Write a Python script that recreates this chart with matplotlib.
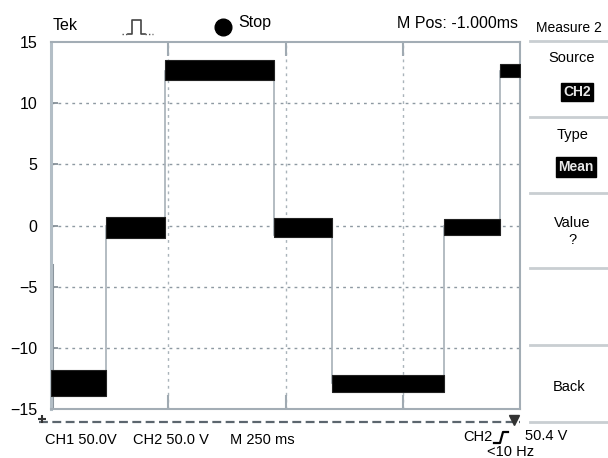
import matplotlib
matplotlib.use("Agg")
import matplotlib.pyplot as plt
from matplotlib.lines import Line2D

plt.rcParams['font.family'] = ['Liberation Sans', 'DejaVu Sans']

# trace levels: each segment is a noisy band (low/high edge)
seg_start = [0.0, 0.47, 0.97, 1.90, 2.40, 3.35, 3.83]
seg_end = [0.47, 0.97, 1.90, 2.40, 3.35, 3.83, 4.0]
band_low = [-13.9, -1.0, 11.9, -0.9, -13.6, -0.8, 12.1]
band_high = [-11.8, 0.7, 13.5, 0.6, -12.2, 0.5, 13.2]

# edges between the levels
edge_x = [0.47, 0.97, 1.90, 2.40, 3.35, 3.83]
edge_from = [-13.0, 0.0, 12.6, -0.2, -12.9, 0.0]
edge_to = [0.0, 12.6, -0.8, -12.9, 0.0, 12.6]

y_ticks = [15, 10, 5, 0, -5, -10, -15]
grid_y = [10, 5, 0, -5, -10]
grid_x = [1, 2, 3]

W, H = 608, 458
fig = plt.figure(figsize=(W / 100, H / 100), dpi=100)


def px(x, y):
    return x / W, 1 - y / H


ax = fig.add_axes([51 / W, 1 - 409 / H, (520 - 51) / W, (409 - 42) / H])
ax.set_xlim(0, 4)
ax.set_ylim(-15, 15)

grid_col = '#8e99a2'
for g in grid_y:
    ax.axhline(g, color=grid_col, lw=1.0, ls=(0, (2, 3)), zorder=1)
for g in grid_x:
    ax.axvline(g, color='#a9b3ba', lw=1.0, ls=(0, (2, 3)), zorder=1)

# left edge of the trace
ax.plot([0.012, 0.012], [-3.2, -15], color='#8a949c', lw=2.2, zorder=2)

for x, a, b in zip(edge_x, edge_from, edge_to):
    ax.plot([x, x], [a, b], color='#a7b0b8', lw=1.2, zorder=2)

for s, e, lo, hi in zip(seg_start, seg_end, band_low, band_high):
    ax.fill_between([s, e], [lo, lo], [hi, hi], color='black', lw=0.8,
                    edgecolor='#222222', zorder=3)

ax.set_yticks(y_ticks)
ax.set_yticklabels([str(t).replace('-', '\u2212') for t in y_ticks])
ax.tick_params(axis='y', direction='in', length=5, width=1.2, color='#7d8890',
               labelsize=11.5, pad=10)
ax.set_xticks(grid_x)
ax.set_xticklabels([])
ax.tick_params(axis='x', direction='in', length=10, width=1.5, color='#a0aab2',
               top=True, bottom=True)

ax.spines['left'].set_color('#b3bec6')
ax.spines['left'].set_linewidth(2.2)
for sp in ['top', 'right', 'bottom']:
    ax.spines[sp].set_color('#a3adb5')
    ax.spines[sp].set_linewidth(1.5)

# dashed scale line under the screen
ax.plot([-0.1, 4.0], [-16.1, -16.1], color='#5c666e', lw=1.6,
        ls=(0, (4, 2)), clip_on=False)
ax.plot([3.95], [-15.9], marker='v', color='#333333', ms=7, clip_on=False)
ax.plot([-0.08], [-15.8], marker='+', color='#333333', ms=6, mew=1.5,
        clip_on=False)

# header
fig.text(*px(53, 25), 'Tek', fontsize=11.5, va='center', ha='left')
fig.add_artist(Line2D([122 / W, 128 / W], [1 - 34 / H, 1 - 34 / H],
                      color='#555555', lw=1, ls=(0, (1, 1.5))))
fig.add_artist(Line2D([x / W for x in [128, 132, 132, 141, 141, 145]],
                      [1 - y / H for y in [34, 34, 20, 20, 34, 34]],
                      color='#444444', lw=1.2))
fig.add_artist(Line2D([145 / W, 153 / W], [1 - 34 / H, 1 - 34 / H],
                      color='#555555', lw=1, ls=(0, (1, 1.5))))
fig.add_artist(Line2D([223 / W], [1 - 27 / H], marker='o', ms=12,
                      color='black'))
fig.text(*px(238, 23), 'Stop', fontsize=11.5, va='center', ha='left')
fig.text(*px(518, 24), 'M Pos: -1.000ms', fontsize=11.5, va='center',
         ha='right')
fig.text(*px(569, 28), 'Measure 2', fontsize=10, va='center', ha='center')

# side menu
for y in [41, 117, 193, 268, 345, 422]:
    fig.add_artist(Line2D([530 / W, 1], [1 - y / H, 1 - y / H],
                          color='#c9ced2', lw=2))
fig.text(*px(572, 58), 'Source', fontsize=10.5, va='center', ha='center')
fig.text(*px(577, 92), 'CH2', fontsize=10, va='center', ha='center',
         color='#e8e8e8', fontweight='bold',
         bbox=dict(boxstyle='square,pad=0.15', fc='black', ec='black'))
fig.text(*px(573, 135), 'Type', fontsize=10.5, va='center', ha='center')
fig.text(*px(576, 167), 'Mean', fontsize=10, va='center', ha='center',
         color='#e8e8e8', fontweight='bold',
         bbox=dict(boxstyle='square,pad=0.2', fc='black', ec='black'))
fig.text(*px(572, 223), 'Value', fontsize=10.5, va='center', ha='center')
fig.text(*px(572, 240), '?', fontsize=10.5, va='center', ha='center')
fig.text(*px(569, 387), 'Back', fontsize=10.5, va='center', ha='center')

# footer
fig.text(*px(45, 440), 'CH1 50.0V', fontsize=10.5, va='center', ha='left')
fig.text(*px(133, 440), 'CH2 50.0 V', fontsize=10.5, va='center', ha='left')
fig.text(*px(230, 440), 'M 250 ms', fontsize=10.5, va='center', ha='left')
fig.text(*px(463, 437), 'CH2', fontsize=10.5, va='center', ha='left')
fig.add_artist(Line2D([x / W for x in [494, 500, 503, 508]],
                      [1 - y / H for y in [443, 443, 432, 432]],
                      color='black', lw=1.6))
fig.text(*px(525, 436), '50.4 V', fontsize=10.5, va='center', ha='left')
fig.text(*px(487, 452), '<10 Hz', fontsize=10.5, va='center', ha='left')

fig.savefig('out.png', dpi=100)
